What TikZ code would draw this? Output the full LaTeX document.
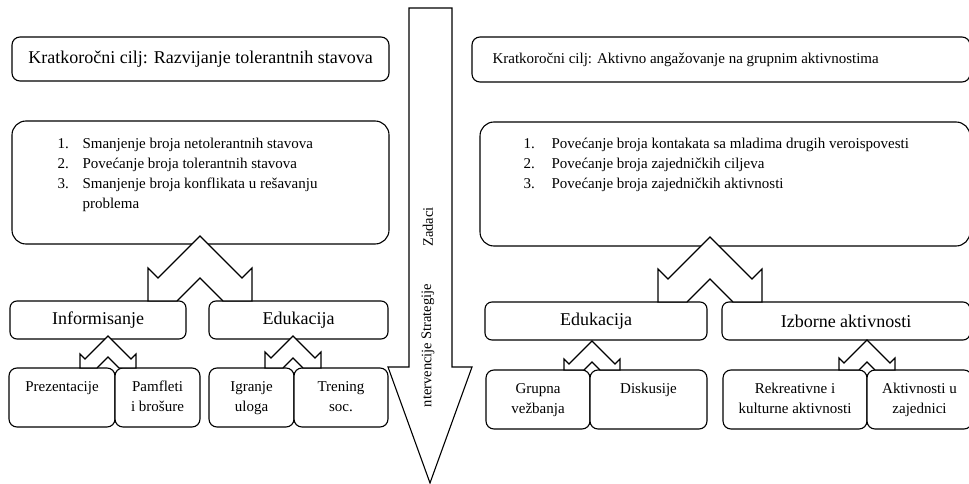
\documentclass[tikz,border=0pt]{standalone}
\usepackage{fontspec}
\setmainfont{Liberation Serif}
\begin{document}
\begin{tikzpicture}[x=1pt,y=-1pt,
  line width=1.1pt,
  outline/.style={draw=black, fill=white},
  goalbox/.style={outline, rounded corners=8pt, inner sep=0pt},
  listbox/.style={outline, rounded corners=14pt, inner sep=0pt},
  stratbox/.style={outline, rounded corners=7pt, inner sep=0pt},
  actbox/.style={outline, rounded corners=8pt, inner sep=0pt, align=center},
  big/.style={font=\fontsize{18}{22}\selectfont},
  body/.style={font=\fontsize{15}{20}\selectfont},
  small/.style={font=\fontsize{14.5}{18}\selectfont},
  conn/.style={draw=black, fill=white, line join=miter},
]
% box from (x1,y1) to (x2,y2): name, x1, y1, x2, y2, style
\newcommand\blk[6]{\node[#6, minimum width={(#4-#2)*1pt}, minimum height={(#5-#3)*1pt}] (#1) at ({(#2+#4)/2},{(#3+#5)/2})}
% split block arrow: apex x, apex y, arm size, barb, band depth, foot y
\newcommand\splitarrow[6]{%
  \draw[conn] ({#1-#3-#4},#6) -- ({#1-#3-#4},{#2+#3-#4}) -- ({#1-#3},{#2+#3})
    -- (#1,#2) -- ({#1+#3},{#2+#3}) -- ({#1+#3+#4},{#2+#3-#4}) -- ({#1+#3+#4},#6)
    -- ({#1+#6-#2-#5},#6) -- (#1,{#2+#5}) -- ({#1-#6+#2+#5},#6) -- cycle;}

\useasboundingbox (0,0) rectangle (969,484);

% ---------------- left column ----------------
\blk{prez}{9}{368}{115}{427}{actbox,body}{Prezentacije\strut\\\strut};
\blk{pamf}{115}{368}{200}{427}{actbox,body}{Pamfleti\strut\\i brošure\strut};
\blk{igr}{209}{368}{294}{427}{actbox,body}{Igranje\strut\\uloga\strut};
\blk{tren}{294}{368}{388}{427}{actbox,body}{Trening\strut\\soc.\strut};

\blk{infL}{10}{301}{186}{339}{stratbox,big}{Informisanje};
\blk{eduL}{209}{301}{388}{339}{stratbox,big}{Edukacija};

\blk{topL}{12}{37}{389}{81}{goalbox,big}{Kratkoročni cilj: Razvijanje tolerantnih stavova};
\blk{bigL}{12}{121}{389}{244}{listbox}{};

\node[body, anchor=base west, inner sep=0pt] (nL1) at (57,148.5) {1.};
\node[body, anchor=base west, inner sep=0pt] (tL1) at (82,148.5) {Smanjenje broja netolerantnih stavova};
\node[body, anchor=base west, inner sep=0pt] (nL2) at (57,168.5) {2.};
\node[body, anchor=base west, inner sep=0pt] (tL2) at (82,168.5) {Povećanje broja tolerantnih stavova};
\node[body, anchor=base west, inner sep=0pt] (nL3) at (57,188.5) {3.};
\node[body, anchor=base west, inner sep=0pt] (tL3) at (82,188.5) {Smanjenje broja konflikata u rešavanju};
\node[body, anchor=base west, inner sep=0pt] (tL4) at (82,208) {problema};

\splitarrow{200}{236}{42}{10}{42}{301}
\splitarrow{108}{336}{23}{5}{21}{368}
\splitarrow{293}{336}{22}{6}{22}{368}

% ---------------- right column ----------------
\blk{grup}{486}{370}{590}{429}{actbox,body}{Grupna\strut\\vežbanja\strut};
\blk{disk}{590}{370}{707}{429}{actbox,body}{Diskusije\strut\\\strut};
\blk{rek}{723}{370}{867}{429}{actbox,body}{Rekreativne i\strut\\kulturne aktivnosti\strut};
\blk{akt}{867}{370}{972}{429}{actbox,body}{Aktivnosti u\strut\\zajednici\strut};

\blk{eduR}{485}{302}{707}{340}{stratbox,big}{Edukacija};
\blk{izb}{722}{302}{970}{340}{stratbox,big}{Izborne aktivnosti};

\blk{topR}{472}{37}{970}{82}{goalbox}{};
\node[body, anchor=west, inner sep=0pt] (topRtext) at (492,59.5) {Kratkoročni cilj: Aktivno angažovanje na grupnim aktivnostima};
\blk{bigR}{480}{122}{970}{246}{listbox}{};

\node[body, anchor=base west, inner sep=0pt] (nR1) at (523,148.5) {1.};
\node[body, anchor=base west, inner sep=0pt] (tR1) at (551,148.5) {Povećanje broja kontakata sa mladima drugih veroispovesti};
\node[body, anchor=base west, inner sep=0pt] (nR2) at (523,168.5) {2.};
\node[body, anchor=base west, inner sep=0pt] (tR2) at (551,168.5) {Povećanje broja zajedničkih ciljeva};
\node[body, anchor=base west, inner sep=0pt] (nR3) at (523,188.5) {3.};
\node[body, anchor=base west, inner sep=0pt] (tR3) at (551,188.5) {Povećanje broja zajedničkih aktivnosti};

\splitarrow{710}{237}{42}{10}{42}{302}
\splitarrow{592}{341}{23}{5}{21}{370}
\splitarrow{867}{340}{23}{5}{22}{370}

% ---------------- central downward arrow ----------------
\draw[conn] (409,8) -- (452,8) -- (452,367) -- (472,367) -- (430,483)
  -- (388,367) -- (409,367) -- cycle;
\node[small, rotate=90] (zad) at (428,227) {Zadaci};
\node[small, rotate=90] (str) at (428,312) {Strategije};
\node[small, rotate=90] (intv) at (428,375) {ntervencije};
\end{tikzpicture}
\end{document}
